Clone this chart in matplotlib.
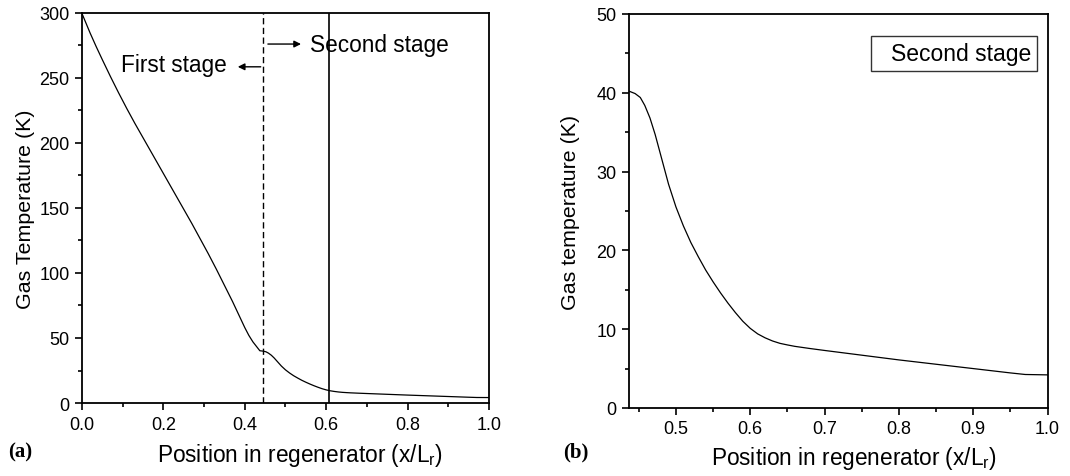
import matplotlib
matplotlib.use('Agg')
import matplotlib.pyplot as plt
import numpy as np
from matplotlib.lines import Line2D
from matplotlib.ticker import FormatStrFormatter

plt.rcParams['font.family'] = ['Liberation Sans', 'DejaVu Sans']

# gas temperature along the regenerator
pos_first = [0.0, 0.01, 0.02, 0.035, 0.05, 0.07, 0.09, 0.11, 0.13, 0.15, 0.17, 0.19,
             0.21, 0.23, 0.25, 0.27, 0.29, 0.31, 0.33, 0.35, 0.37, 0.385, 0.40, 0.41,
             0.42, 0.43]
temp_first = [299.5, 292, 284.5, 274, 264, 251, 238.5, 226.5, 215, 204, 193, 182,
              171, 160, 149, 138, 126.5, 115, 103, 90.5, 78, 68, 58, 52,
              47, 43]
pos_second = [0.437, 0.445, 0.452, 0.458, 0.465, 0.472, 0.48, 0.49, 0.50, 0.51, 0.52,
              0.53, 0.54, 0.55, 0.56, 0.57, 0.58, 0.59, 0.60, 0.61, 0.62, 0.63, 0.64,
              0.65, 0.66, 0.68, 0.70, 0.75, 0.80, 0.85, 0.90, 0.95, 0.97, 1.0]
temp_second = [40.2, 39.9, 39.4, 38.4, 36.8, 34.7, 31.9, 28.4, 25.5, 23.1, 21.0,
               19.2, 17.5, 16.0, 14.6, 13.3, 12.1, 11.0, 10.1, 9.4, 8.9, 8.5, 8.2,
               8.0, 7.82, 7.55, 7.3, 6.7, 6.1, 5.55, 5.0, 4.45, 4.25, 4.2]

stage_split = 0.446
second_stage_end = 0.608

fig = plt.figure(figsize=(10.7, 4.77), dpi=100)
ax1 = fig.add_axes([0.0766, 0.153, 0.3804, 0.818])
ax2 = fig.add_axes([0.588, 0.1426, 0.391, 0.826])

for ax in (ax1, ax2):
    for s in ax.spines.values():
        s.set_linewidth(1.3)
    ax.tick_params(which='both', direction='out', top=False, right=False, labelsize=13, width=1.2)
    ax.tick_params(which='major', length=5, pad=4)
    ax.tick_params(which='minor', length=3)

# ------ panel (a) ------
pos_all = pos_first + pos_second
temp_all = temp_first + temp_second
ax1.plot(pos_all, temp_all, color='black', lw=0.9)
ax1.axvline(stage_split, color='black', lw=1.0, ls=(0, (4.5, 2.5)))
ax1.axvline(second_stage_end, color='black', lw=1.2)
ax1.set_xlim(0, 1.0)
ax1.set_ylim(0, 300)
ax1.set_xticks(np.arange(0, 1.01, 0.2))
ax1.set_xticks(np.arange(0, 1.01, 0.1), minor=True)
ax1.set_yticks(np.arange(0, 301, 50))
ax1.set_yticks(np.arange(0, 301, 25), minor=True)
ax1.xaxis.set_major_formatter(FormatStrFormatter('%.1f'))
ax1.set_xlabel('Position in regenerator (x/L$_\\mathregular{r}$)', fontsize=16.3, labelpad=6)
ax1.xaxis.label.set_x(0.536)
ax1.set_ylabel('Gas Temperature (K)', fontsize=15.4, labelpad=3)

ax1.annotate('', xy=(0.376, 258.5), xytext=(stage_split, 258.5),
             arrowprops=dict(arrowstyle='-|>', color='black', lw=1, mutation_scale=10))
ax1.text(0.356, 260, 'First stage', ha='right', va='center', fontsize=16.3)
ax1.annotate('', xy=(0.545, 276), xytext=(stage_split + 0.004, 276),
             arrowprops=dict(arrowstyle='-|>', color='black', lw=1, mutation_scale=10))
ax1.text(0.561, 275.5, 'Second stage', ha='left', va='center', fontsize=16.3)

# ------ panel (b) ------
ax2.plot(pos_second, temp_second, color='black', lw=0.9)
ax2.set_xlim(0.437, 1.0)
ax2.set_ylim(0, 50)
ax2.set_xticks(np.arange(0.5, 1.01, 0.1))
ax2.set_xticks(np.arange(0.45, 1.01, 0.05), minor=True)
ax2.set_yticks(np.arange(0, 51, 10))
ax2.set_yticks(np.arange(0, 51, 5), minor=True)
ax2.xaxis.set_major_formatter(FormatStrFormatter('%.1f'))
ax2.set_xlabel('Position in regenerator (x/L$_\\mathregular{r}$)', fontsize=16.3, labelpad=5)
ax2.xaxis.label.set_x(0.538)
ax2.set_ylabel('Gas temperature (K)', fontsize=15.4, labelpad=12)
leg = ax2.legend([Line2D([], [], color='none')], ['Second stage'], loc='upper right',
                 bbox_to_anchor=(0.974, 0.944), borderaxespad=0,
                 fontsize=16.5, frameon=True, fancybox=False, edgecolor='black',
                 handlelength=0.4, handletextpad=0.2, borderpad=0.25)
leg.get_frame().set_linewidth(1.0)

fig.text(0.008, 0.052, '(a)', fontsize=15, fontweight='bold', va='center',
         family=['Liberation Serif', 'DejaVu Serif'])
fig.text(0.526, 0.052, '(b)', fontsize=15, fontweight='bold', va='center',
         family=['Liberation Serif', 'DejaVu Serif'])

fig.savefig('out.png', dpi=100)
